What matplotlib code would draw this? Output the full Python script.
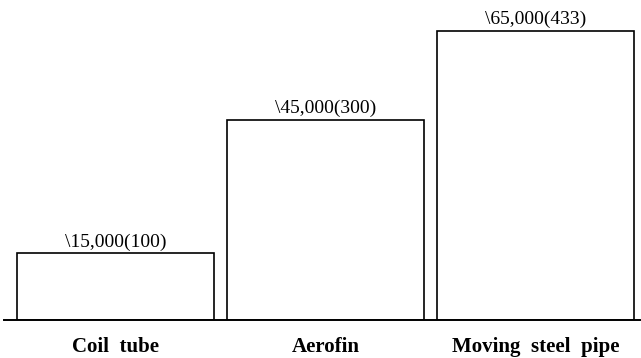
import matplotlib
matplotlib.use('Agg')
import matplotlib.pyplot as plt

# ------------------ Data ------------------
categories = ['Coil  tube', 'Aerofin', 'Moving  steel  pipe']
costs = [15000, 45000, 65000]
ratios = [100, 300, 433]

plt.rcParams['font.family'] = ['Liberation Serif', 'DejaVu Serif']

# ------------------ Figure ------------------
fig = plt.figure(figsize=(6.41, 3.58), dpi=100)
ax = fig.add_axes([4 / 641, 38 / 358, 636 / 641, 320 / 358])

pos = range(len(categories))
bars = ax.bar(pos, costs, width=0.94, color='white', edgecolor='black', linewidth=1.2)

for rect, cost, ratio in zip(bars, costs, ratios):
    ax.annotate(f"\\{cost:,}({ratio})",
                (rect.get_x() + rect.get_width() / 2, cost),
                xytext=(0, 2), textcoords='offset points',
                ha='center', va='bottom', fontsize=14)

ax.set_xlim(-0.531, 2.498)
ax.set_ylim(0, 72000)
ax.set_xticks(list(pos))
ax.set_xticklabels(categories, fontsize=15, fontweight='bold')
ax.tick_params(axis='x', length=0, pad=12)
ax.set_yticks([])
for side in ['top', 'left', 'right']:
    ax.spines[side].set_visible(False)
ax.spines['bottom'].set_linewidth(1.4)

fig.savefig('out.png', dpi=100)
